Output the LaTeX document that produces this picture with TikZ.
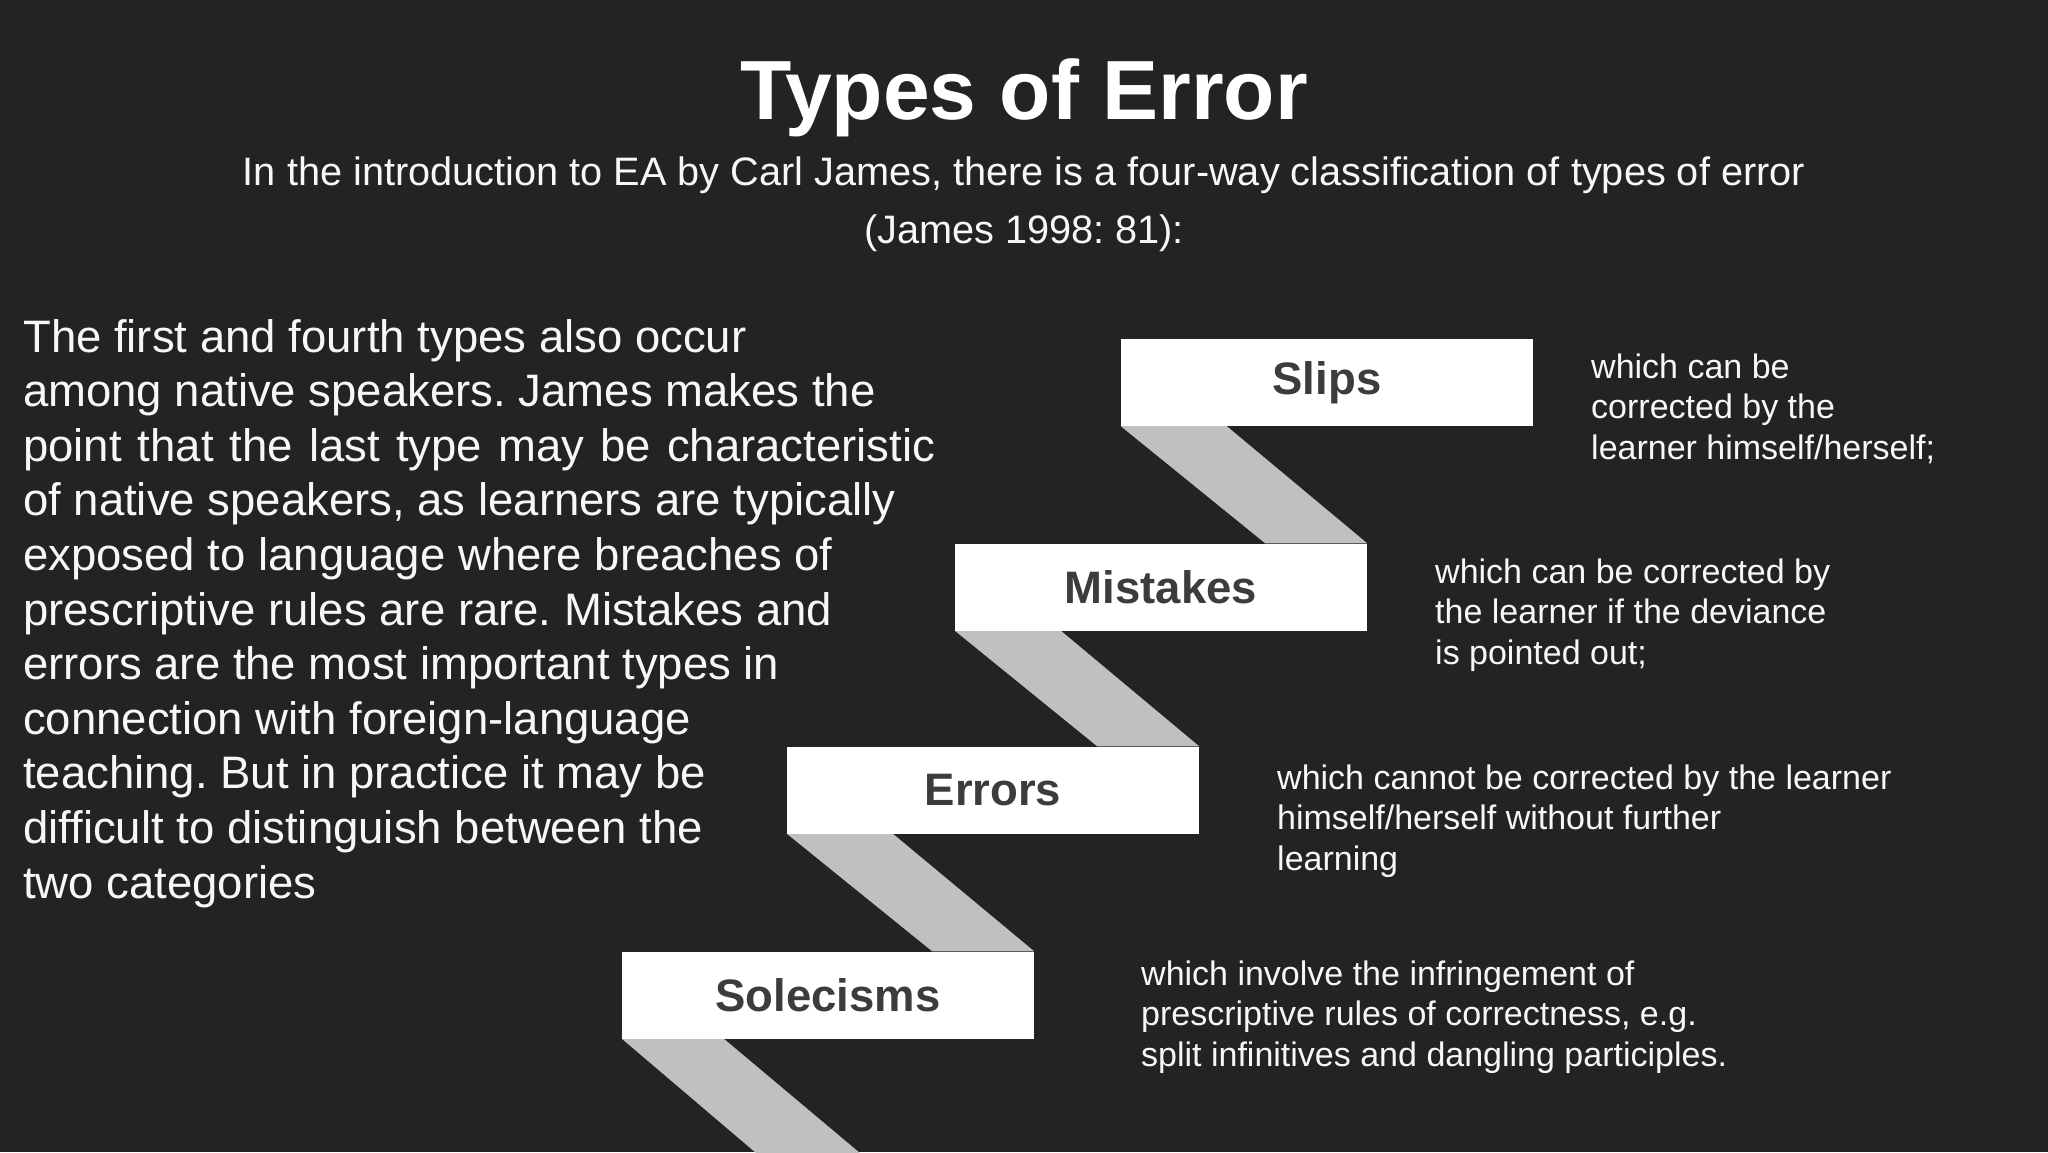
\documentclass[tikz,border=0pt]{standalone}
\usepackage{fontspec}
\setmainfont{Liberation Sans}
\usetikzlibrary{calc,backgrounds}
\frenchspacing
\definecolor{bg}{HTML}{232326}
\definecolor{band}{HTML}{C0C0C2}
\definecolor{lbl}{HTML}{3C3C3E}
\definecolor{txt}{HTML}{F7F7F7}
\tikzset{
  stepbox/.style={fill=white, draw=none, minimum width=412pt, minimum height=87pt, inner sep=0pt,
    text=lbl, font=\fontsize{45.5}{50}\selectfont\bfseries},
  desc/.style={anchor=base west, align=left, inner sep=0pt, text=txt,
    font=\fontsize{34}{40.5}\selectfont},
  bandfill/.style={fill=band, draw=none}
}
\begin{document}
\begin{tikzpicture}[x=1pt,y=-1pt]
\useasboundingbox (0,0) rectangle (2048,1152);
% boxes
\node[stepbox] (slips) at (1327,382.5) {Slips};
\node[stepbox] (mistakes) at (1161,587) {Mistakes};
\node[stepbox] (errors) at (993,790) {Errors};
\node[stepbox] (solecisms) at (828,995) {Solecisms};
\coordinate (bottomL) at (755,1152);
\coordinate (bottomR) at (859,1152);
\begin{scope}[on background layer]
  \fill[bg] (0,0) rectangle (2048,1152);
  \clip (0,0) rectangle (2048,1152);
  \fill[bandfill] (slips.south west) -- ($(slips.south west)+(106,0)$) -- (mistakes.north east) -- ($(mistakes.north east)+(-102,0)$) -- cycle;
  \fill[bandfill] (mistakes.south west) -- ($(mistakes.south west)+(106,0)$) -- (errors.north east) -- ($(errors.north east)+(-102,0)$) -- cycle;
  \fill[bandfill] (errors.south west) -- ($(errors.south west)+(106,0)$) -- (solecisms.north east) -- ($(solecisms.north east)+(-102,0)$) -- cycle;
  \fill[bandfill] (solecisms.south west) -- ($(solecisms.south west)+(102,0)$) -- ($(bottomR)+(14,12)$) -- ($(bottomL)+(14,12)$) -- cycle;
\end{scope}
% title
\node[anchor=base, inner sep=0pt, text=white, font=\fontsize{84}{90}\selectfont\bfseries] (title) at (1024,119) {Types of Error};
\node[anchor=base, inner sep=0pt, text=txt, align=center, font=\fontsize{39.7}{58}\selectfont] (subtitle) at (1024,243)
  {In the introduction to EA by Carl James, there is a four-way classification of types of error\\(James 1998: 81):};
% left paragraph
\node[anchor=base west, inner sep=0pt, text=txt, align=left, font=\fontsize{45.5}{54.6}\selectfont] (para) at (23,898)
  {The first and fourth types also occur\\
   among native speakers. James makes the\\
   \makebox[912pt][s]{point that the last type may be characteristic}\\
   of native speakers, as learners are typically\\
   exposed to language where breaches of\\
   prescriptive rules are rare. Mistakes and\\
   errors are the most important types in\\
   connection with foreign-language\\
   teaching. But in practice it may be\\
   difficult to distinguish between the\\
   two categories};
% descriptions
\node[desc] (dslips) at (1591,459) {which can be\\corrected by the\\learner himself/herself;};
\node[desc] (dmistakes) at (1435,664) {which can be corrected by\\the learner if the deviance\\is pointed out;};
\node[desc] (derrors) at (1277,870) {which cannot be corrected by the learner\\himself/herself without further\\learning};
\node[desc] (dsolecisms) at (1141,1066) {which involve the infringement of\\prescriptive rules of correctness, e.g.\\split infinitives and dangling participles.};
\end{tikzpicture}
\end{document}
